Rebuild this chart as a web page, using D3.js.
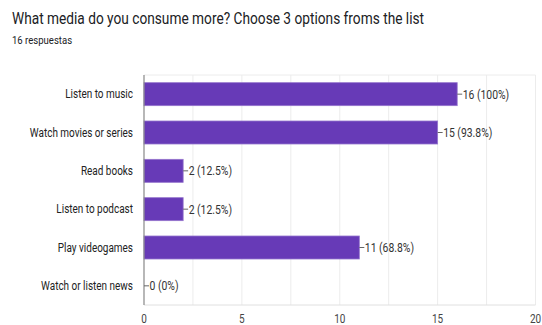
<!DOCTYPE html>
<html>
<head>
<meta charset="utf-8">
<script src="https://cdn.jsdelivr.net/npm/d3@7"></script>
<style>
  html, body { margin: 0; padding: 0; background: #fff; }
  svg { display: block; font-family: Roboto, Arial, sans-serif; }
</style>
</head>
<body>
<div id="chart"></div>
<script>
// ── Data ──────────────────────────────────────────────────────────────────
const TITLE = 'What media do you consume more? Choose 3 options froms the list';
const SUBTITLE = '16 respuestas';
const CATEGORIES = ['Listen to music', 'Watch movies or series', 'Read books', 'Listen to podcast', 'Play videogames', 'Watch or listen news'];
const COUNTS = [16, 15, 2, 2, 11, 0];
const PERCENTS = ['100%', '93.8%', '12.5%', '12.5%', '68.8%', '0%'];
const X_TICKS = [0, 5, 10, 15, 20];
const X_GRID = [2.5, 5, 7.5, 10, 12.5, 15, 17.5, 20];

(function () {
  'use strict';

  const width = 542, height = 325;
  const margin = { top: 75, right: 5, bottom: 20, left: 144 };
  const innerW = width - margin.left - margin.right;
  const innerH = height - margin.top - margin.bottom;
  const SQUEEZE = 0.83; // the source text looks horizontally condensed

  const svg = d3.select('#chart').append('svg')
    .attr('width', width).attr('height', height);

  // squeeze text horizontally by setting textLength from measured width
  function squeeze(sel) {
    sel.each(function () {
      const w = this.getComputedTextLength();
      d3.select(this).attr('textLength', w * SQUEEZE).attr('lengthAdjust', 'spacingAndGlyphs');
    });
  }

  svg.append('text')
    .attr('x', 12).attr('y', 24)
    .attr('font-size', 16.5).attr('fill', '#202124')
    .text(TITLE).call(squeeze);

  svg.append('text')
    .attr('x', 12).attr('y', 44)
    .attr('font-size', 11.5).attr('fill', '#202124')
    .text(SUBTITLE).call(squeeze);

  const g = svg.append('g').attr('transform', `translate(${margin.left},${margin.top})`);

  const x = d3.scaleLinear().domain([0, 20]).range([0, innerW - 1.5]);
  const y = d3.scaleBand().domain(CATEGORIES).range([0, innerH]).paddingInner(0.4).paddingOuter(0.2);

  // grid
  g.selectAll('.grid').data(X_GRID).enter().append('line')
    .attr('x1', d => x(d)).attr('x2', d => x(d))
    .attr('y1', 0).attr('y2', innerH)
    .attr('stroke', '#ececec').attr('stroke-width', 1);
  g.append('line').attr('x1', 0).attr('x2', x(20)).attr('y1', 0).attr('y2', 0)
    .attr('stroke', '#ececec');
  g.append('line').attr('x1', 0).attr('x2', x(20)).attr('y1', innerH).attr('y2', innerH)
    .attr('stroke', '#e0e0e0');

  // bars
  g.selectAll('.bar').data(CATEGORIES).enter().append('rect')
    .attr('x', 0)
    .attr('y', d => y(d))
    .attr('width', (d, i) => x(COUNTS[i]))
    .attr('height', y.bandwidth())
    .attr('fill', '#673ab7')
    .attr('stroke', '#9575cd').attr('stroke-width', 0.8);

  // baseline axis
  g.append('line').attr('x1', 0).attr('x2', 0).attr('y1', 0).attr('y2', innerH)
    .attr('stroke', '#888').attr('stroke-width', 1.2);

  // value labels with leader lines
  CATEGORIES.forEach((c, i) => {
    const cx = x(COUNTS[i]);
    const cy = y(c) + y.bandwidth() / 2;
    g.append('line').attr('x1', cx).attr('x2', cx + 5).attr('y1', cy).attr('y2', cy)
      .attr('stroke', '#666').attr('stroke-width', 1);
    g.append('text')
      .attr('x', cx + 5.5).attr('y', cy).attr('dy', '0.35em')
      .attr('font-size', 12.5).attr('fill', '#333')
      .text(`${COUNTS[i]} (${PERCENTS[i]})`).call(squeeze);
  });

  // category labels
  g.selectAll('.cat').data(CATEGORIES).enter().append('text')
    .attr('x', -11).attr('y', d => y(d) + y.bandwidth() / 2).attr('dy', '0.35em')
    .attr('text-anchor', 'end')
    .attr('font-size', 12).attr('fill', '#222')
    .text(d => d).call(squeeze);

  // x tick labels
  g.selectAll('.tick-label').data(X_TICKS).enter().append('text')
    .attr('x', d => x(d)).attr('y', innerH + 18)
    .attr('text-anchor', 'middle')
    .attr('font-size', 12).attr('fill', '#444')
    .text(d => d).call(squeeze);
})();
</script>
</body>
</html>
